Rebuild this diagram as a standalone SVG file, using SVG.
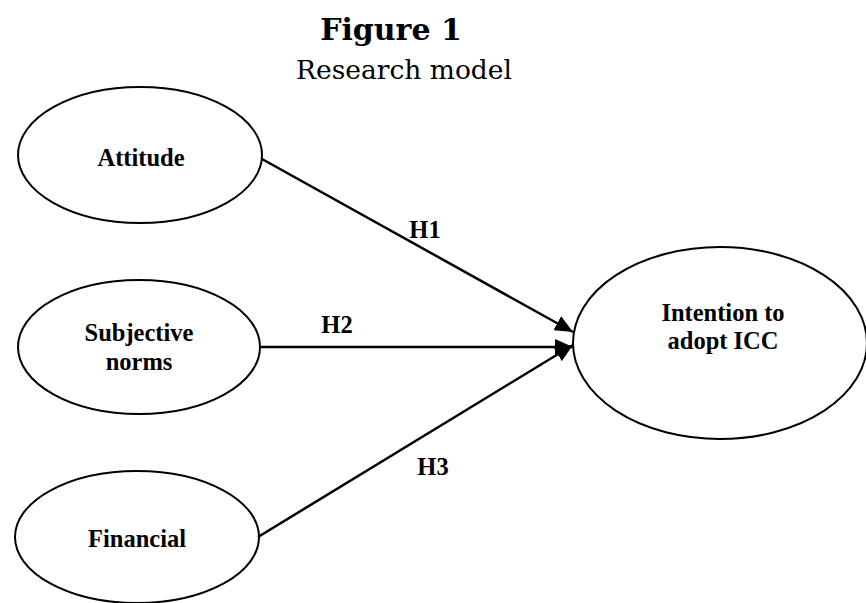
<svg xmlns="http://www.w3.org/2000/svg" width="866" height="603" viewBox="0 0 866 603">
<style>
.node{fill:#fff;stroke:#000;stroke-width:2}
.lbl{font-family:"Liberation Serif","Times New Roman",serif;font-weight:bold;font-size:24.5px;fill:#000;text-anchor:middle}
.edge{stroke:#000;stroke-width:2.5;fill:none}
</style>
<defs>
<marker id="arr" markerUnits="userSpaceOnUse" markerWidth="20" markerHeight="16" refX="18" refY="8" orient="auto">
<path d="M0,0 L18,8 L0,16 Z" fill="#000"/>
</marker>
</defs>
<rect width="866" height="603" fill="#fff"/>
<text x="391" y="40" font-family="DejaVu Serif,Georgia,serif" font-weight="bold" font-size="30" text-anchor="middle">Figure 1</text>
<text x="404" y="79" font-family="DejaVu Serif,Georgia,serif" font-size="26.5" text-anchor="middle">Research model</text>
<g id="attitude">
<ellipse class="node" cx="140" cy="155" rx="122" ry="68"/>
<text class="lbl" x="141" y="166">Attitude</text>
</g>
<g id="subjective">
<ellipse class="node" cx="139" cy="347" rx="121" ry="67"/>
<text class="lbl" x="139" y="341">Subjective</text>
<text class="lbl" x="139" y="370">norms</text>
</g>
<g id="financial">
<ellipse class="node" cx="137" cy="537" rx="122" ry="66"/>
<text class="lbl" x="137" y="547">Financial</text>
</g>
<g id="intention">
<ellipse class="node" cx="720" cy="343" rx="147" ry="96"/>
<text class="lbl" x="723" y="321">Intention to</text>
<text class="lbl" x="723" y="349">adopt ICC</text>
</g>
<g id="connectors">
<line class="edge" x1="262" y1="159" x2="573" y2="332" marker-end="url(#arr)"/>
<line class="edge" x1="260" y1="347" x2="573" y2="347" marker-end="url(#arr)"/>
<line class="edge" x1="258" y1="537" x2="573" y2="345" marker-end="url(#arr)"/>
<text class="lbl" x="425" y="238">H1</text>
<text class="lbl" x="337" y="333">H2</text>
<text class="lbl" x="433" y="475">H3</text>
</g>
</svg>
